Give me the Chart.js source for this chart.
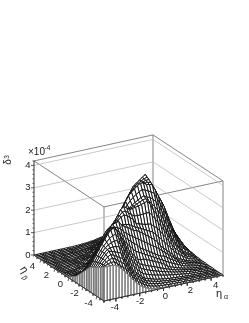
<!DOCTYPE html>
<html>
<head>
<meta charset="utf-8">
<style>
  html, body { margin: 0; padding: 0; background: #fff; }
  canvas { display: block; }
</style>
<script src="https://cdn.jsdelivr.net/npm/chart.js@4"></script>
</head>
<body>
<canvas id="myChart" width="249" height="323"></canvas>
<script>
const etaStep = 0.25;
const etaMin = -5;
const etaMax = 5;
const zMax = 4.2;
const etaTicks = [-4, -2, 0, 2, 4];
const etaMinorTicks = [-5, -4.5, -3.5, -3, -2.5, -1.5, -1, -0.5, 0.5, 1, 1.5, 2.5, 3, 3.5, 4.5, 5];
const zTicks = [0, 1, 2, 3, 4];
const zMinorTicks = [0.2, 0.4, 0.6, 0.8, 1.2, 1.4, 1.6, 1.8, 2.2, 2.4, 2.6, 2.8, 3.2, 3.4, 3.6, 3.8, 4.2];

// delta3 in 1e-6 units, one row per eta_beta from -5 to 5, one column per eta_alpha from -5 to 5
const deltaRows = [
[150,151,151,150,148,138,125,110,95,78,62,48,35,26,18,12,8,6,5,3,2,2,2,1,1,1,1,1,1,1,0,0,0,0,0,0,0,0,0,0,0],
[145,150,155,158,158,148,136,125,114,96,78,62,48,38,28,21,15,12,9,7,6,5,4,3,3,3,2,2,2,2,1,1,1,1,0,0,0,0,0,0,0],
[139,148,158,165,169,162,152,142,132,113,94,76,60,48,38,29,22,18,15,12,10,9,8,7,6,5,5,4,4,3,3,2,2,2,1,1,1,0,0,0,0],
[134,146,160,172,180,174,166,158,151,130,110,90,72,60,48,38,28,24,20,17,14,12,11,9,8,7,6,5,5,4,3,3,2,2,1,1,1,0,0,0,0],
[128,145,162,178,190,186,181,176,170,148,126,105,85,71,58,46,35,30,26,22,18,16,14,12,10,9,8,7,6,5,4,3,3,2,2,1,1,1,0,0,0],
[124,142,160,178,192,196,198,197,193,172,150,128,106,90,76,63,51,45,40,36,32,29,26,23,20,18,16,14,12,10,8,6,5,4,3,3,2,1,1,0,0],
[119,140,160,180,195,205,212,216,216,196,174,151,128,110,95,81,68,62,56,51,46,42,38,34,30,27,23,20,17,15,12,10,8,6,5,4,3,2,2,1,1],
[115,137,158,180,198,212,226,235,239,220,198,174,149,130,114,98,84,77,71,66,61,56,51,45,40,35,31,26,22,19,16,13,10,8,6,4,3,2,2,1,1],
[110,134,156,180,200,220,240,255,262,244,222,196,170,150,132,115,100,93,94,88,83,77,71,64,58,50,39,33,28,24,20,16,12,10,7,5,4,3,2,1,1],
[99,122,144,165,182,206,230,246,252,242,226,208,189,172,157,142,129,122,115,107,100,93,86,78,71,64,56,49,42,36,30,24,18,15,11,8,6,4,3,2,1],
[88,110,132,150,165,188,215,232,250,248,238,224,210,195,182,170,158,150,134,125,117,109,100,92,84,76,74,65,56,48,40,32,24,20,15,11,8,6,4,3,2],
[78,96,116,134,148,170,198,218,242,246,244,238,232,215,205,195,186,176,168,158,150,140,131,122,114,103,92,81,71,60,50,39,29,24,19,14,10,8,5,3,2],
[67,82,98,114,130,158,186,212,232,242,250,256,258,238,230,222,215,203,201,192,183,173,163,153,143,130,110,97,85,72,60,47,35,29,23,17,12,9,6,4,2],
[57,70,84,98,110,136,166,192,212,226,238,246,250,236,234,231,228,220,212,205,199,192,185,178,172,158,144,129,115,99,84,69,54,45,35,26,18,14,10,6,3],
[47,58,68,79,90,116,144,170,192,206,218,230,238,250,262,268,262,250,240,218,214,210,206,204,202,188,180,162,145,127,108,90,72,60,47,35,24,18,14,8,4],
[37,45,54,62,70,96,124,150,174,190,208,220,232,246,262,276,278,268,256,247,246,246,247,248,248,232,214,195,175,155,134,112,91,75,60,44,29,23,16,10,5],
[27,32,38,44,50,78,106,132,155,172,190,206,222,238,258,282,292,285,272,276,278,281,285,290,293,276,248,228,205,182,158,134,110,90,70,52,35,27,20,13,6],
[21,26,30,36,41,60,80,101,122,142,162,180,200,218,236,258,270,268,268,272,278,284,290,296,300,288,272,256,238,215,190,165,139,115,92,70,48,38,28,18,8],
[16,20,23,28,32,47,64,82,100,120,140,160,178,194,210,224,235,248,262,266,277,286,294,302,307,298,295,283,270,246,220,194,168,140,112,85,60,46,34,21,9],
[10,13,17,20,24,36,50,64,78,98,118,138,159,175,190,205,220,240,258,276,292,304,314,323,330,324,318,310,302,276,250,223,196,163,132,101,72,56,40,24,10],
[5,8,10,12,15,24,34,45,55,75,96,118,140,156,172,188,205,228,252,285,308,322,334,345,353,352,342,339,335,308,280,252,225,188,152,118,85,66,46,28,12],
[4,6,8,10,12,20,28,37,46,64,82,102,122,138,155,172,189,212,235,259,282,298,314,328,339,341,343,343,341,315,288,261,234,198,162,127,94,73,52,32,14],
[3,5,6,8,10,16,23,30,38,53,70,88,105,121,138,155,172,195,218,234,257,276,294,310,324,330,343,347,348,322,295,268,242,206,172,136,102,80,58,37,16],
[2,4,5,6,8,13,18,24,29,43,58,73,88,105,122,139,156,178,202,225,248,270,290,309,326,334,342,349,354,330,304,278,251,216,182,146,111,88,65,42,18],
[1,2,3,4,5,8,12,16,20,32,44,57,70,87,105,122,140,162,185,208,230,253,276,298,320,330,340,351,360,335,310,285,260,225,190,155,120,95,70,45,20],
[1,2,2,3,4,7,10,14,17,27,37,48,59,75,90,106,122,143,164,185,206,228,252,274,296,307,318,329,339,316,292,267,242,210,178,146,115,92,68,45,22],
[1,1,2,3,4,6,8,11,14,22,30,39,48,62,76,90,105,124,144,163,182,205,228,250,272,284,296,307,318,295,272,248,225,196,168,138,110,88,66,46,25],
[0,1,1,2,3,5,7,9,11,17,23,30,36,49,62,75,88,105,122,140,158,180,203,226,248,260,272,284,296,274,252,230,208,182,156,130,105,85,66,47,28],
[0,0,1,1,2,3,5,6,8,12,16,20,25,35,47,58,70,86,102,118,135,157,180,203,225,238,250,262,275,254,232,212,190,168,145,122,100,82,65,47,30],
[0,0,1,1,2,3,4,5,6,10,13,17,21,30,40,50,59,73,87,102,116,136,156,176,196,208,220,231,242,224,207,190,172,152,131,110,90,74,58,42,26],
[0,0,0,1,1,2,3,4,5,8,10,13,16,24,32,40,48,60,73,85,98,116,133,151,168,178,189,200,210,196,182,168,155,136,117,98,80,66,51,36,22],
[0,0,0,1,1,1,2,2,3,5,8,10,12,18,24,30,36,47,58,68,79,94,109,124,139,149,158,168,178,168,158,148,138,121,104,87,70,57,44,32,19],
[0,0,0,0,0,0,1,1,2,3,5,6,8,12,16,20,25,34,43,52,60,72,85,98,110,119,128,136,145,139,132,126,120,105,90,75,60,49,38,26,15],
[0,0,0,0,0,0,1,1,2,3,4,5,6,10,14,18,21,28,36,43,50,61,72,83,94,102,110,118,125,120,114,109,104,91,78,64,51,42,32,22,13],
[0,0,0,0,0,0,0,1,1,2,3,4,5,8,10,13,16,22,28,34,40,50,59,68,78,85,92,98,105,101,96,92,88,77,66,54,42,34,26,18,10],
[0,0,0,0,0,0,0,1,1,2,2,3,4,6,8,10,12,16,21,26,30,38,46,54,61,67,73,79,85,81,78,74,71,62,52,43,34,28,21,14,8],
[0,0,0,0,0,0,0,0,0,0,1,1,2,3,5,6,8,11,14,17,20,26,32,38,45,50,55,60,65,62,60,58,55,48,40,32,25,20,16,11,6],
[0,0,0,0,0,0,0,0,0,0,1,1,2,3,4,5,6,9,12,14,17,22,27,33,38,43,47,52,56,54,52,50,48,42,35,28,22,18,14,9,5],
[0,0,0,0,0,0,0,0,0,0,0,1,1,2,3,4,5,7,10,12,14,18,23,27,32,36,39,43,46,44,43,42,40,35,29,24,18,14,11,7,4],
[0,0,0,0,0,0,0,0,0,0,0,0,0,1,1,2,3,5,6,8,10,14,18,21,25,28,31,34,37,36,34,33,32,28,24,19,15,12,9,6,4],
[0,0,0,0,0,0,0,0,0,0,0,0,0,0,1,1,2,3,4,6,7,10,13,15,18,21,23,26,28,27,27,26,25,22,18,15,12,10,7,5,3]
];

// oblique view of the box, pixels per data unit
function project(a, b, z) {
  return {
    x: 104 + (a - etaMin) * 11.9 - (b - etaMin) * 7,
    y: 301 - (a - etaMin) * 2.6 - (b - etaMin) * 4.6 - z * 22.4
  };
}

function segment(points, color, width) {
  return {
    data: points,
    showLine: true,
    fill: false,
    borderColor: color,
    borderWidth: width,
    pointRadius: 0,
    tension: 0
  };
}

function patch(points, color, width) {
  const ds = segment(points.concat([points[0]]), color, width);
  ds.fill = 'shape';
  ds.backgroundColor = '#fff';
  return ds;
}

const zAt = (i, j) => deltaRows[i][j] / 100;
const etaAt = (k) => etaMin + k * etaStep;
const cellCount = deltaRows.length - 1;

// first dataset is painted last, so front goes first
const datasets = [];

// axes
const axisColor = '#333';
datasets.push(segment([project(etaMin, etaMin, 0), project(etaMax, etaMin, 0)], axisColor, 1));
datasets.push(segment([project(etaMin, etaMin, 0), project(etaMin, etaMax, 0)], axisColor, 1));
datasets.push(segment([project(etaMin, etaMax, 0), project(etaMin, etaMax, zMax)], axisColor, 1));
const tickAt = (p, dx, dy) => segment([p, { x: p.x + dx, y: p.y + dy }], axisColor, 0.8);
etaTicks.forEach((t) => {
  datasets.push(tickAt(project(t, etaMin, 0), 0, 3));
  datasets.push(tickAt(project(etaMin, t, 0), -1, 3));
});
etaMinorTicks.forEach((t) => {
  datasets.push(tickAt(project(t, etaMin, 0), 0, 1.5));
  datasets.push(tickAt(project(etaMin, t, 0), -0.5, 1.5));
});
zTicks.forEach((t) => datasets.push(tickAt(project(etaMin, etaMax, t), -3, 0)));
zMinorTicks.forEach((t) => datasets.push(tickAt(project(etaMin, etaMax, t), -1.5, 0)));

// side curtains under the front edges
const curtainColor = '#777';
for (let k = 0; k < cellCount; k++) {
  datasets.push(patch([
    project(etaAt(k), etaMin, 0), project(etaAt(k + 1), etaMin, 0),
    project(etaAt(k + 1), etaMin, zAt(0, k + 1)), project(etaAt(k), etaMin, zAt(0, k))
  ], curtainColor, 1));
  datasets.push(patch([
    project(etaMin, etaAt(k), 0), project(etaMin, etaAt(k + 1), 0),
    project(etaMin, etaAt(k + 1), zAt(k + 1, 0)), project(etaMin, etaAt(k), zAt(k, 0))
  ], curtainColor, 1));
}

// surface cells, front to back
for (let i = 0; i < cellCount; i++) {
  for (let j = 0; j < cellCount; j++) {
    datasets.push(patch([
      project(etaAt(j), etaAt(i), zAt(i, j)),
      project(etaAt(j + 1), etaAt(i), zAt(i, j + 1)),
      project(etaAt(j + 1), etaAt(i + 1), zAt(i + 1, j + 1)),
      project(etaAt(j), etaAt(i + 1), zAt(i + 1, j))
    ], '#111', 0.95));
  }
}

// box
const boxColor = '#777';
const gridColor = '#bbb';
zTicks.slice(1).forEach((t) => {
  datasets.push(segment([project(etaMin, etaMax, t), project(etaMax, etaMax, t), project(etaMax, etaMin, t)], gridColor, 0.8));
});
datasets.push(segment([
  project(etaMin, etaMax, zMax), project(etaMax, etaMax, zMax), project(etaMax, etaMin, zMax),
  project(etaMin, etaMin, zMax), project(etaMin, etaMax, zMax)
], boxColor, 0.9));
datasets.push(segment([project(etaMin, etaMin, 0), project(etaMin, etaMin, zMax)], boxColor, 0.9));
datasets.push(segment([project(etaMax, etaMax, 0), project(etaMax, etaMax, zMax)], boxColor, 0.9));
datasets.push(segment([project(etaMax, etaMin, 0), project(etaMax, etaMin, zMax)], boxColor, 0.9));

const axisText = {
  id: 'axisText',
  afterDraw(chart) {
    const ctx = chart.ctx;
    const sx = chart.scales.x;
    const sy = chart.scales.y;
    const put = (text, x, y, size, align, angle) => {
      ctx.save();
      ctx.translate(sx.getPixelForValue(x), sy.getPixelForValue(y));
      ctx.rotate((angle || 0) * Math.PI / 180);
      ctx.font = size + 'px "Liberation Sans"';
      ctx.textAlign = align || 'center';
      ctx.textBaseline = 'middle';
      ctx.fillStyle = '#222';
      ctx.fillText(text, 0, 0);
      ctx.restore();
    };
    etaTicks.forEach((t) => {
      const pa = project(t, etaMin, 0);
      put(String(t), pa.x - 1 + (t + 4) * 0.7, pa.y + 9 - (t + 4) * 0.2, 9.5);
      const pb = project(etaMin, t, 0);
      put(String(t), pb.x - 8.5, pb.y + 6.5, 9.5);
    });
    zTicks.forEach((t) => {
      const p = project(etaMin, etaMax, t);
      put(String(t), 30.5, p.y, 9.5, 'right');
    });
    put('×10', 28, 152, 10, 'left');
    put('-4', 44.5, 148, 6.5, 'left');
    put('δ', 8, 162, 10, 'center', -90);
    put('3', 7, 157, 6.5, 'center', -90);
    put('η', 219, 294, 11);
    put('α', 226, 297, 7);
    put('η', 24, 270, 11, 'center', 60);
    put('β', 24.5, 278, 7, 'center', 60);
  }
};

new Chart(document.getElementById('myChart').getContext('2d'), {
  type: 'scatter',
  data: { datasets: datasets },
  options: {
    responsive: false,
    animation: false,
    events: [],
    layout: { padding: 0 },
    plugins: { legend: { display: false }, tooltip: { enabled: false } },
    scales: {
      x: { type: 'linear', min: 0, max: 249, display: false },
      y: { type: 'linear', min: 0, max: 323, reverse: true, display: false }
    }
  },
  plugins: [axisText]
});
</script>
</body>
</html>
